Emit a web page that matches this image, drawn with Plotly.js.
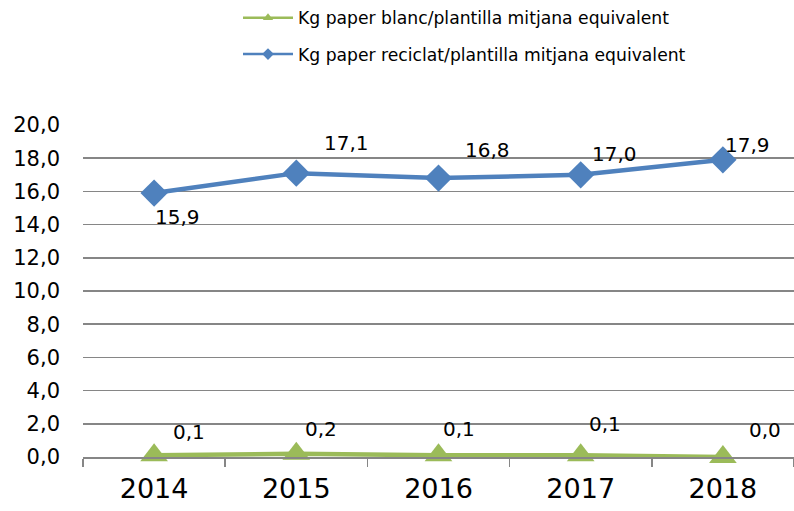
<!DOCTYPE html>
<html>
<head>
<meta charset="utf-8">
<script src="https://cdn.plot.ly/plotly-3.0.1.min.js"></script>
<style>html,body{margin:0;padding:0;background:#fff;}#chart{width:794px;height:511px;}</style>
</head>
<body>
<div id="chart"></div>
<script>
var years = ['2014', '2015', '2016', '2017', '2018'];
var blancName = 'Kg paper blanc/plantilla mitjana equivalent';
var reciclatName = 'Kg paper reciclat/plantilla mitjana equivalent';
var blancValues = [0.1, 0.2, 0.1, 0.1, 0.0];
var reciclatValues = [15.9, 17.1, 16.8, 17.0, 17.9];
var yTickValues = [0, 2, 4, 6, 8, 10, 12, 14, 16, 18, 20];

// label offsets (pixels) – style only
var blancShiftX = [35, 25, 20, 24, 42];
var blancShiftY = [23, 25, 26, 31, 27];
var reciclatShiftX = [23, 50, 49, 34, 25];
var reciclatShiftY = [-24, 30, 28, 21, 15];

function fmt(v) { return v.toFixed(1).replace('.', ','); }

var FONT = 'DejaVu Sans, Verdana, sans-serif';
var green = '#9BBB59', blue = '#4F81BD';

var traces = [
  {
    x: years, y: blancValues, name: blancName, type: 'scatter', mode: 'lines+markers',
    line: {color: green, width: 4.5}, marker: {symbol: 'triangle-up', size: 24, color: green},
    cliponaxis: false, showlegend: false
  },
  {
    x: years, y: reciclatValues, name: reciclatName, type: 'scatter', mode: 'lines+markers',
    line: {color: blue, width: 4.5}, marker: {symbol: 'diamond', size: 21, color: blue},
    cliponaxis: false, showlegend: false
  },
  // legend entries (thin line + small marker, as in the reference legend)
  {
    x: [null], y: [null], name: blancName, type: 'scatter', mode: 'lines+markers',
    line: {color: green, width: 2.5}, marker: {symbol: 'triangle-up', size: 9, color: green},
    legendgroup: 'a'
  },
  {
    x: [null], y: [null], name: reciclatName, type: 'scatter', mode: 'lines+markers',
    line: {color: blue, width: 2.5}, marker: {symbol: 'diamond', size: 9, color: blue},
    legendgroup: 'b'
  }
];

// category axis: annotations are positioned by category index
var annotations = [];
years.forEach(function (yr, i) {
  annotations.push({x: i, y: blancValues[i], text: fmt(blancValues[i]), showarrow: false,
    xshift: blancShiftX[i], yshift: blancShiftY[i], font: {family: FONT, size: 20, color: '#000'}});
  annotations.push({x: i, y: reciclatValues[i], text: fmt(reciclatValues[i]), showarrow: false,
    xshift: reciclatShiftX[i], yshift: reciclatShiftY[i], font: {family: FONT, size: 20, color: '#000'}});
});

var layout = {
  width: 794, height: 511,
  margin: {l: 83, r: 0, t: 125, b: 54},
  paper_bgcolor: '#fff', plot_bgcolor: '#fff',
  font: {family: FONT, color: '#000'},
  showlegend: true,
  legend: {
    x: (238 - 83) / 711, xref: 'paper', y: 1, yref: 'container', xanchor: 'left', yanchor: 'top',
    font: {family: FONT, size: 17.2, color: '#000'},
    traceorder: 'grouped', tracegroupgap: 11, itemwidth: 50, bgcolor: 'rgba(0,0,0,0)'
  },
  xaxis: {
    type: 'category', showgrid: false, showline: true, linecolor: '#868686', linewidth: 1.5,
    ticks: 'outside', tickson: 'boundaries', ticklen: 8, tickcolor: '#868686', tickwidth: 1.5,
    tickfont: {family: FONT, size: 27, color: '#000'}, ticklabelstandoff: 7, tickangle: 0,
    range: [-0.5, 4.5], zeroline: false
  },
  yaxis: {
    range: [0, 20], tickvals: yTickValues, ticktext: yTickValues.map(fmt),
    showgrid: true, gridcolor: '#868686', gridwidth: 1.5, zeroline: false, showline: false,
    ticks: '', tickfont: {family: FONT, size: 21, color: '#000'}, ticklabelstandoff: 22
  },
  annotations: annotations
};

Plotly.newPlot('chart', traces, layout, {displayModeBar: false, staticPlot: true});
</script>
</body>
</html>
